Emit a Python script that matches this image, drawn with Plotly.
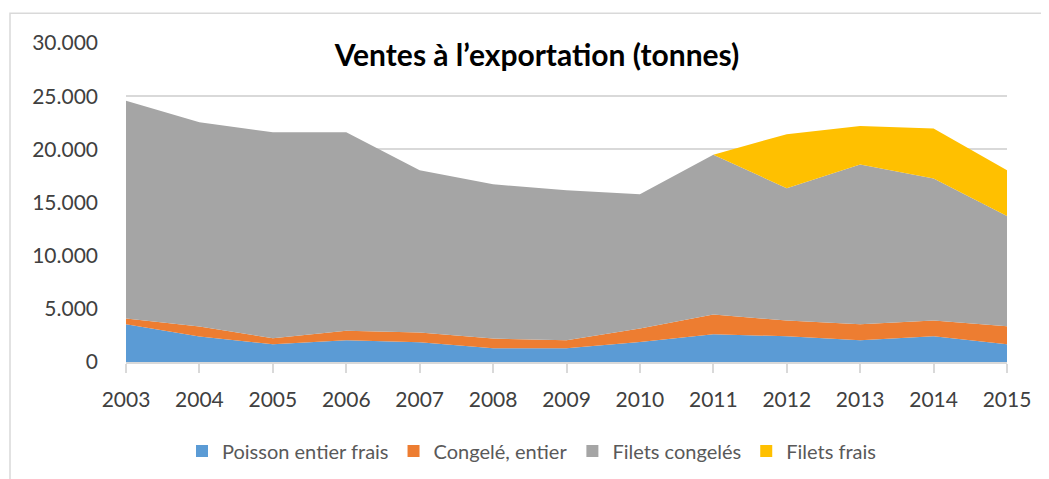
import plotly.graph_objects as go

years = [2003, 2004, 2005, 2006, 2007, 2008, 2009, 2010, 2011, 2012, 2013, 2014, 2015]
poisson_entier_frais = [3560, 2390, 1670, 2050, 1860, 1290, 1290, 1890, 2610, 2420, 2050, 2420, 1670]
congele_entier = [530, 950, 560, 880, 910, 910, 760, 1260, 1860, 1480, 1510, 1480, 1700]
filets_congeles = [20490, 19200, 19370, 18670, 15270, 14510, 14100, 12620, 15030, 12440, 15010, 13350, 10350]
filets_frais = [0, 0, 0, 0, 0, 0, 0, 0, 0, 5090, 3620, 4720, 4320]

series_names = ["Poisson entier frais", "Congelé, entier", "Filets congelés", "Filets frais"]
series_values = [poisson_entier_frais, congele_entier, filets_congeles, filets_frais]
series_colors = ["#5B9BD5", "#ED7D31", "#A5A5A5", "#FFC000"]

y_tickvals = [0, 5000, 10000, 15000, 20000, 25000, 30000]
y_ticktext = ["0", "5.000", "10.000", "15.000", "20.000", "25.000", "30.000"]
x_ticktext = [str(y) for y in years]

title_text = "Ventes à l’exportation (tonnes)"

fig = go.Figure()
for name, vals, col in zip(series_names, series_values, series_colors):
    fig.add_trace(go.Scatter(
        x=years, y=vals, name=name, mode="lines",
        stackgroup="one", line=dict(width=0, color=col), fillcolor=col,
        hoverinfo="x+y+name", showlegend=False, legendgroup=name,
    ))
# legend entries with square swatches
for name, col in zip(series_names, series_colors):
    fig.add_trace(go.Bar(x=[None], y=[None], name=name, marker=dict(color=col, line=dict(width=0)),
                         legendgroup=name, showlegend=True, hoverinfo="skip"))

FONT = "Lato, 'Open Sans', sans-serif"

W, H = 1041, 471  # page body adds an 8px offset
fig.update_layout(
    width=W, height=H,
    margin=dict(l=118, r=42, t=35, b=117, autoexpand=False),
    paper_bgcolor="white", plot_bgcolor="white",
    font=dict(family=FONT, color="#404040"),
    title=dict(text="<b>" + title_text + "</b>", x=529 / W, xref="container", xanchor="center",
               y=1 - 47 / H, yref="container", yanchor="middle",
               font=dict(size=30, color="#000000", family=FONT)),
    xaxis=dict(range=[2003, 2015], tickvals=years, ticktext=x_ticktext, tickangle=0,
               showgrid=False, showline=True, linecolor="#D9D9D9", linewidth=1.5,
               ticks="outside", ticklen=9, tickcolor="#D9D9D9", tickwidth=1.5,
               tickfont=dict(size=21, color="#404040"), ticklabelstandoff=9,
               zeroline=False, fixedrange=True, automargin=False),
    yaxis=dict(range=[0, 30000], tickvals=y_tickvals, ticktext=y_ticktext,
               showgrid=True, gridcolor="#D9D9D9", gridwidth=1.5,
               showline=False, zeroline=False, ticks="",
               tickfont=dict(size=21, color="#404040"), ticklabelstandoff=27,
               fixedrange=True, automargin=False),
    legend=dict(orientation="h", x=524 / W, xanchor="center", xref="container",
                y=1 - 443 / H, yref="container", yanchor="middle",
                font=dict(size=20, color="#595959"), traceorder="normal",
                itemwidth=30, bgcolor="rgba(0,0,0,0)"),
    showlegend=True,
    shapes=[dict(type="rect", xref="paper", yref="paper",
                 x0=(2 - 118) / 881, x1=1.2, y0=-0.6, y1=(354 - 5.5) / 318.7,
                 line=dict(color="#D9D9D9", width=1.5), fillcolor="rgba(0,0,0,0)", layer="below")],
)

fig.write_html("out.html")
